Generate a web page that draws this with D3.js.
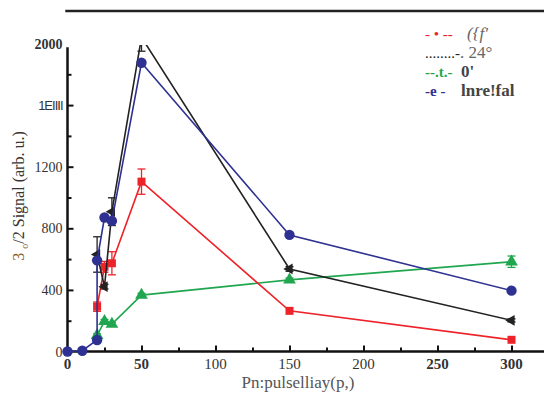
<!DOCTYPE html>
<html>
<head>
<meta charset="utf-8">
<script src="https://cdn.jsdelivr.net/npm/d3@7"></script>
<style>
  body { margin: 0; background: #fff; }
  svg { display: block; }
  .serif { font-family: "Times New Roman", Times, "Liberation Serif", "DejaVu Serif", serif; }
  .sans { font-family: "Liberation Sans", Arial, "DejaVu Sans", sans-serif; }
</style>
</head>
<body>
<div id="chart"></div>
<script>
// size
var w = 544, h = 394;

// data
var xBlue = [0, 10, 20, 20, 25, 30, 50, 150, 300];
var yBlue = [0, 5, 75, 592, 870, 848, 1875, 757, 395];

var xBlack = [20, 25, 30, 50, 150, 300];
var yBlack = [630, 421, 908, 2040, 536, 202];
var eBlack = [115, 15, 90, 90, 15, 10];

var xRed = [20, 25, 30, 50, 150, 300];
var yRed = [291, 550, 573, 1103, 264, 76];
var eRed = [30, 35, 75, 82, 0, 0];

var xGreen = [20, 25, 30, 50, 150, 300];
var yGreen = [105, 196, 178, 366, 465, 583];
var eGreen = [10, 12, 12, 12, 12, 37];

var xTicks = [0, 50, 100, 150, 200, 250, 300];
var xTickLabels = ["0", "50", "100", "150", "200", "250", "300"];
var xBold = [true, true, false, false, false, true, true];
var xMinor = [25, 75, 125, 175, 225, 275];

var yTicks = [0, 400, 800, 1200, 1600, 2000];
var yTickLabels = ["0", "400", "800", "1200", "1EIIII", "2000"];
var yMinor = [200, 600, 1000, 1400, 1800];

var legendMarks = ["- \u2022 --", "........- ", "--.t.-", "-e -"];
var legendTexts = ["({f'", ". 24\u00b0", "0'", "lnre!fal"];

var xTitle = "Pn:pulselliay(p,)";

// scales
var x = d3.scaleLinear().domain([0, 300]).range([67.5, 511.5]);
var y = d3.scaleLinear().domain([0, 2000]).range([351.5, 43.5]);

var svg = d3.select("#chart").append("svg")
  .attr("width", w).attr("height", h);

svg.append("defs").append("clipPath").attr("id", "plotclip")
  .append("rect")
  .attr("x", 60).attr("y", y(1990))
  .attr("width", w - 60).attr("height", h - y(1990));

// top frame line
svg.append("line")
  .attr("x1", x(-1.5)).attr("x2", w)
  .attr("y1", 11).attr("y2", 11)
  .attr("stroke", "#222").attr("stroke-width", 2.5);

// axes lines
svg.append("line")
  .attr("x1", x(0)).attr("x2", x(0))
  .attr("y1", y(0) + 1).attr("y2", y(1975))
  .attr("stroke", "#111").attr("stroke-width", 2.5);
svg.append("line")
  .attr("x1", x(0) - 1).attr("x2", w)
  .attr("y1", y(0)).attr("y2", y(0))
  .attr("stroke", "#111").attr("stroke-width", 2.5);

// ticks (inward)
var gx = svg.append("g").attr("transform", "translate(0," + y(0) + ")")
  .call(d3.axisBottom(x).tickValues(xTicks.slice(1)).tickSize(-6).tickFormat(""));
var gxm = svg.append("g").attr("transform", "translate(0," + y(0) + ")")
  .call(d3.axisBottom(x).tickValues(xMinor).tickSize(-4).tickFormat(""));
var gy = svg.append("g").attr("transform", "translate(" + x(0) + ",0)")
  .call(d3.axisLeft(y).tickValues(yTicks.slice(1, 5)).tickSize(-6).tickFormat(""));
var gym = svg.append("g").attr("transform", "translate(" + x(0) + ",0)")
  .call(d3.axisLeft(y).tickValues(yMinor).tickSize(-4).tickFormat(""));
[gx, gxm, gy, gym].forEach(function(g) {
  g.select(".domain").remove();
  g.selectAll("line").attr("stroke", "#111").attr("stroke-width", 2);
});

// tick labels
svg.selectAll(".xlab").data(xTicks).enter().append("text")
  .attr("class", "serif")
  .attr("x", function(d) { return x(d); })
  .attr("y", y(0) + 17)
  .attr("text-anchor", "middle")
  .attr("font-size", 15)
  .attr("font-weight", function(d, i) { return xBold[i] ? "bold" : "normal"; })
  .attr("fill", "#333")
  .text(function(d, i) { return xTickLabels[i]; });

svg.selectAll(".ylab").data(yTicks).enter().append("text")
  .attr("class", function(d, i) { return yTickLabels[i] === "1EIIII" ? "sans" : "serif"; })
  .attr("x", x(0) - 5)
  .attr("y", function(d) { return y(d) + 5; })
  .attr("text-anchor", "end")
  .attr("font-size", function(d, i) { return yTickLabels[i] === "1EIIII" ? 13 : 14; })
  .attr("font-weight", function(d, i) { return i === 5 ? "bold" : "normal"; })
  .attr("letter-spacing", function(d, i) { return yTickLabels[i] === "1EIIII" ? -1 : 0; })
  .attr("fill", "#333")
  .text(function(d, i) { return yTickLabels[i]; });

// axis titles
svg.append("text")
  .attr("class", "serif")
  .attr("x", 298).attr("y", 388)
  .attr("text-anchor", "middle")
  .attr("font-size", 17)
  .attr("fill", "#555")
  .text(xTitle);

var yt = svg.append("text")
  .attr("class", "serif")
  .attr("transform", "translate(24,196) rotate(-90)")
  .attr("text-anchor", "middle")
  .attr("font-size", 16)
  .attr("fill", "#3a3330");
yt.append("tspan").attr("fill", "#8a5a2a").text("3 ");
yt.append("tspan").attr("fill", "#8a5a2a").attr("font-size", 10).attr("dy", 4).text("o");
yt.append("tspan").attr("dy", -4).text("/2 Signal (arb. u.)");

// series
var plot = svg.append("g").attr("clip-path", "url(#plotclip)");

function pts(xs, ys, es) {
  return xs.map(function(d, i) { return { x: d, y: ys[i], e: es ? es[i] : 0 }; });
}

var line = d3.line().x(function(d) { return x(d.x); }).y(function(d) { return y(d.y); });

function errorBars(g, data, color) {
  var eb = g.selectAll(null).data(data.filter(function(d) { return d.e > 0; })).enter().append("g");
  eb.append("line")
    .attr("x1", function(d) { return x(d.x); }).attr("x2", function(d) { return x(d.x); })
    .attr("y1", function(d) { return y(d.y - d.e); }).attr("y2", function(d) { return y(d.y + d.e); })
    .attr("stroke", color).attr("stroke-width", 1.3);
  [-1, 1].forEach(function(s) {
    eb.append("line")
      .attr("x1", function(d) { return x(d.x) - 4; }).attr("x2", function(d) { return x(d.x) + 4; })
      .attr("y1", function(d) { return y(d.y + s * d.e); }).attr("y2", function(d) { return y(d.y + s * d.e); })
      .attr("stroke", color).attr("stroke-width", 1.3);
  });
}

var series = [
  { data: pts(xGreen, yGreen, eGreen), color: "#1fa64e", sym: d3.symbolTriangle, size: 70, rot: 0 },
  { data: pts(xRed, yRed, eRed), color: "#ee2229", sym: d3.symbolSquare, size: 64, rot: 0 },
  { data: pts(xBlack, yBlack, eBlack), color: "#222", sym: d3.symbolTriangle, size: 50, rot: -90 },
  { data: pts(xBlue, yBlue), color: "#2e3192", sym: d3.symbolCircle, size: 85, rot: 0 }
];

series.forEach(function(s) {
  var g = plot.append("g");
  g.append("path").datum(s.data)
    .attr("d", line)
    .attr("fill", "none")
    .attr("stroke", s.color)
    .attr("stroke-width", 1.6);
  errorBars(g, s.data, s.color);
  g.selectAll(null).data(s.data).enter().append("path")
    .attr("d", d3.symbol().type(s.sym).size(s.size))
    .attr("transform", function(d) { return "translate(" + x(d.x) + "," + y(d.y) + ") rotate(" + s.rot + ")"; })
    .attr("fill", s.color);
});

// legend
var legColors = ["#ee2229", "#222", "#1fa64e", "#2e3192"];
var legY = [34, 53, 72, 91];
var legTextStyle = [
  { weight: "normal", style: "italic", fill: "#666" },
  { weight: "normal", style: "normal", fill: "#666" },
  { weight: "bold", style: "normal", fill: "#444" },
  { weight: "bold", style: "normal", fill: "#444" }
];
var leg = svg.append("g");
leg.selectAll(".lm").data(legendMarks).enter().append("text")
  .attr("class", "serif")
  .attr("x", 425).attr("y", function(d, i) { return legY[i] + 5; })
  .attr("font-size", 15)
  .attr("font-weight", function(d, i) { return i >= 2 ? "bold" : "normal"; })
  .attr("fill", function(d, i) { return legColors[i]; })
  .text(function(d) { return d; });
leg.selectAll(".lt").data(legendTexts).enter().append("text")
  .attr("class", "serif")
  .attr("x", function(d, i) { return [467, 460, 461, 461][i]; })
  .attr("y", function(d, i) { return legY[i] + 5; })
  .attr("font-size", 17)
  .attr("font-weight", function(d, i) { return legTextStyle[i].weight; })
  .attr("font-style", function(d, i) { return legTextStyle[i].style; })
  .attr("fill", function(d, i) { return legTextStyle[i].fill; })
  .text(function(d) { return d; });
</script>
</body>
</html>
